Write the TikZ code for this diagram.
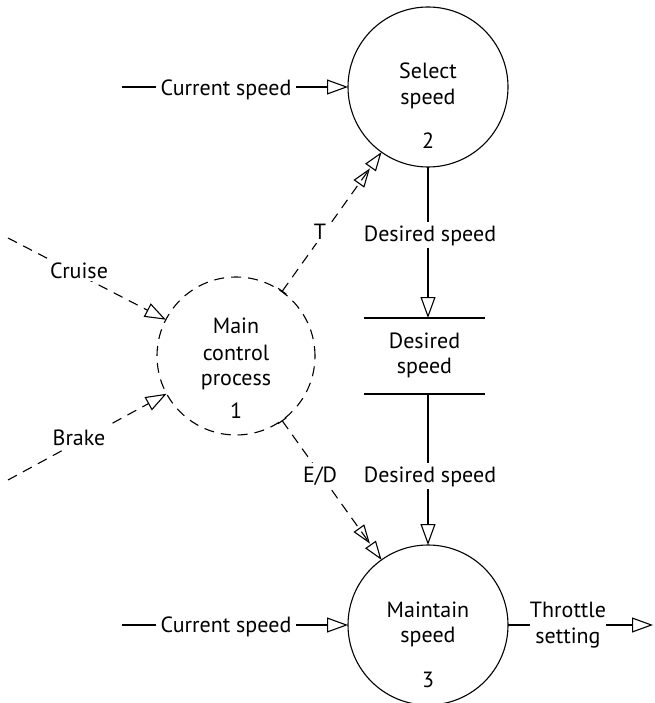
\documentclass[tikz,border=0pt]{standalone}
\usepackage{fontspec}
\setmainfont{PT Sans}
\usetikzlibrary{arrows.meta}
\begin{document}
\begin{tikzpicture}[x=1pt,y=-1pt,
  lw/.style={line width=1.1pt},
  proc/.style={circle,draw,lw,minimum size=160pt,inner sep=0pt,outer sep=0pt},
  txt/.style={font=\fontsize{22}{26}\selectfont, inner sep=0pt, anchor=base},
  lbl/.style={txt, fill=white, inner xsep=5pt, inner ysep=3pt},
  dsh/.style={dash pattern=on 10pt off 7pt},
  dflow/.style={lw, -{Triangle[open,length=21pt,width=15pt]}},
  eflow/.style={lw, dsh, -{Triangle[open,length=21pt,width=15pt]}},
  cflow/.style={lw, dsh, {Bar[width=10pt]}-{Triangle[open,length=19pt,width=13pt,sep=1pt]Triangle[open,length=19pt,width=13pt]}},
]
\fill[white] (0,0) rectangle (654,703);
\useasboundingbox (0,0) rectangle (654,703);

% processes
\node[proc] (c2) at (428,87) {};
\node[proc] (c3) at (428,625) {};
\node[proc, dsh, minimum size=158pt] (c1) at (236,356) {};

% store
\node[minimum width=121pt, minimum height=76pt, inner sep=0pt, outer sep=0pt] (store) at (424.5,356) {};
\draw[lw] (store.north west) -- (store.north east);
\draw[lw] (store.south west) -- (store.south east);

% free ends
\coordinate (cs1) at (122,87);
\coordinate (cs2) at (122,625);
\coordinate (thr) at (653,625);
\coordinate (cru) at (8,238);
\coordinate (brk) at (8,480);

% connectors
\draw[dflow] (cs1) -- (c2);
\draw[dflow] (cs2) -- (c3);
\draw[dflow] (c3) -- (thr);
\draw[dflow] (c2.south) -- (c2.south |- store.north);
\draw[dflow] (c2.south |- store.south) -- (c3.north);
\draw[eflow] (cru) -- (c1);
\draw[eflow] (brk) -- (c1);
\draw[cflow] (c1) -- (c2);
\draw[cflow] (c1) -- (c3);

% texts in processes
\node[txt] (t2a) at (428,79) {Select};
\node[txt] (t2b) at (428,105) {speed};
\node[txt] (t2c) at (428,149) {2};
\node[txt] (t3a) at (428,617) {Maintain};
\node[txt] (t3b) at (428,642) {speed};
\node[txt] (t3c) at (428,687) {3};
\node[txt] (t1a) at (236,333) {Main};
\node[txt] (t1b) at (236,360) {control};
\node[txt] (t1c) at (236,385) {process};
\node[txt] (t1d) at (236,418) {1};
\node[txt] (ts1) at (424.5,348) {Desired};
\node[txt] (ts2) at (424.5,373) {speed};

% flow labels
\node[lbl] (l1) at (226,96) {Current speed};
\node[lbl] (l2) at (226,632) {Current speed};
\node[lbl] (l3) at (430,241) {Desired speed};
\node[lbl] (l4) at (430,482) {Desired speed};
\node[lbl] (l5a) at (568,617) {Throttle};
\node[lbl] (l5b) at (568,643) {setting};
\node[lbl] (l6) at (79,278) {Cruise};
\node[lbl] (l7) at (79,445) {Brake};
\node[lbl, inner xsep=2pt] (l8) at (320,240) {T};
\node[lbl, inner xsep=2pt] (l9) at (320,482) {E/D};
\end{tikzpicture}
\end{document}
